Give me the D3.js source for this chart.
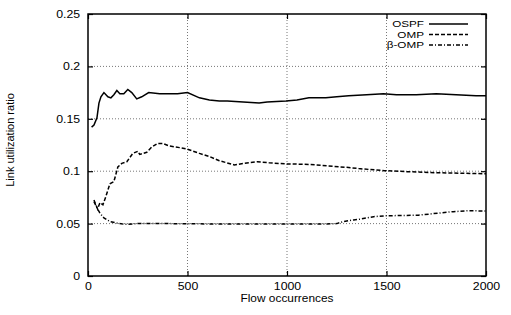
<!DOCTYPE html>
<html>
<head>
<meta charset="utf-8">
<title>Link utilization ratio</title>
<script src="https://d3js.org/d3.v7.min.js"></script>
<style>
  body { margin: 0; background: #fff; }
  text { font-family: "Liberation Sans", Arial, sans-serif; fill: #000; }
  .grid line { stroke: #777; stroke-dasharray: 1,2; stroke-width: 1; }
  .series { fill: none; stroke: #000; stroke-width: 1.5; }
</style>
</head>
<body>
<svg width="511" height="315"></svg>
<script>
// data
var ospfX = [18,30,45,55,65,80,100,115,130,145,160,180,200,220,245,270,305,360,450,500,560,610,660,700,780,860,900,995,1050,1110,1195,1250,1310,1400,1485,1550,1650,1750,1850,1950,2000];
var ospfY = [0.142,0.144,0.151,0.165,0.171,0.175,0.171,0.170,0.173,0.177,0.174,0.174,0.178,0.175,0.169,0.171,0.175,0.174,0.174,0.175,0.170,0.168,0.167,0.167,0.166,0.165,0.166,0.167,0.168,0.170,0.170,0.171,0.172,0.173,0.174,0.173,0.173,0.174,0.173,0.172,0.172];
var ompX = [30,48,60,75,90,110,130,150,170,195,225,250,260,295,320,350,375,410,460,500,560,610,660,735,785,850,910,995,1110,1210,1310,1360,1490,1610,1760,1900,2000];
var ompY = [0.0725,0.064,0.070,0.068,0.076,0.088,0.090,0.104,0.1075,0.109,0.117,0.119,0.116,0.118,0.123,0.1265,0.1265,0.124,0.1225,0.121,0.117,0.114,0.110,0.106,0.1075,0.109,0.108,0.107,0.1065,0.105,0.1035,0.1025,0.1005,0.0995,0.0985,0.098,0.0975];
var betaX = [30,45,60,80,110,150,185,250,400,600,800,1000,1200,1250,1285,1335,1360,1435,1495,1580,1660,1760,1835,1910,2000];
var betaY = [0.071,0.065,0.060,0.0555,0.052,0.0503,0.0493,0.050,0.050,0.0497,0.0497,0.0496,0.0497,0.050,0.052,0.0535,0.054,0.0566,0.0575,0.0577,0.058,0.060,0.0614,0.0623,0.062];
var names = ["OSPF", "OMP", "\u03B2-OMP"];
var dashes = ["none", "4,2", "4,2,1,2"];
var xTicks = [0, 500, 1000, 1500, 2000];
var yTicks = [0, 0.05, 0.1, 0.15, 0.2, 0.25];

var svg = d3.select("svg");
var pLeft = 88, pRight = 486, pTop = 14, pBottom = 276;

var x = d3.scaleLinear().domain([0, 2000]).range([pLeft, pRight]);
var y = d3.scaleLinear().domain([0, 0.25]).range([pBottom, pTop]);

// dotted grid
var grid = svg.append("g").attr("class", "grid");
grid.selectAll(".gx").data(xTicks.slice(1, -1)).enter().append("line")
    .attr("x1", d => x(d)).attr("x2", d => x(d))
    .attr("y1", pTop).attr("y2", pBottom);
grid.selectAll(".gy").data(yTicks.slice(1, -1)).enter().append("line")
    .attr("x1", pLeft).attr("x2", pRight)
    .attr("y1", d => y(d)).attr("y2", d => y(d));

// axes with inward ticks
function styleAxis(g) {
    g.select(".domain").remove();
    g.selectAll(".tick line").attr("stroke", "#000").attr("stroke-width", 1.2);
    g.selectAll("text").attr("font-size", "11px").attr("fill", "#000");
}
svg.append("g").attr("transform", "translate(0," + pBottom + ")")
    .call(d3.axisBottom(x).tickValues(xTicks).tickSize(-5).tickPadding(6).tickFormat(d3.format("d")))
    .call(styleAxis)
    .selectAll("text").attr("transform", "scale(1.12,1)");
svg.append("g").attr("transform", "translate(" + pLeft + ",0)")
    .call(d3.axisLeft(y).tickValues(yTicks).tickSize(-5).tickPadding(7).tickFormat(d => d === 0 ? "0" : String(+d.toFixed(2))))
    .call(styleAxis)
    .selectAll("text").attr("transform", "scale(1.12,1)");
svg.append("g").attr("transform", "translate(0," + pTop + ")")
    .call(d3.axisTop(x).tickValues(xTicks).tickSize(-5).tickFormat(""))
    .call(styleAxis);
svg.append("g").attr("transform", "translate(" + pRight + ",0)")
    .call(d3.axisRight(y).tickValues(yTicks).tickSize(-5).tickFormat(""))
    .call(styleAxis);

svg.append("rect").attr("x", pLeft).attr("y", pTop)
    .attr("width", pRight - pLeft).attr("height", pBottom - pTop)
    .attr("fill", "none").attr("stroke", "#000").attr("stroke-width", 1.5);

// series
var line = d3.line().x(d => x(d[0])).y(d => y(d[1]));
var series = [d3.zip(ospfX, ospfY), d3.zip(ompX, ompY), d3.zip(betaX, betaY)];
svg.selectAll(".series").data(series).enter().append("path")
    .attr("class", "series")
    .attr("d", line)
    .attr("stroke-dasharray", (d, i) => dashes[i]);

// legend
var legend = svg.append("g");
names.forEach(function (n, i) {
    var ly = 24 + i * 10.5;
    legend.append("text").attr("x", 424 / 1.3).attr("y", ly + 3.3)
        .attr("text-anchor", "end").attr("font-size", "9px")
        .attr("transform", "scale(1.3,1)").text(n);
    legend.append("line").attr("x1", 429).attr("x2", 468)
        .attr("y1", ly).attr("y2", ly)
        .attr("stroke", "#000").attr("stroke-width", 1.3)
        .attr("stroke-dasharray", dashes[i]);
});

// axis titles
svg.append("text").attr("x", 287 / 1.08).attr("y", 302)
    .attr("text-anchor", "middle").attr("font-size", "11px")
    .attr("transform", "scale(1.08,1)").text("Flow occurrences");
svg.append("text").attr("transform", "translate(14,140) rotate(-90)")
    .attr("text-anchor", "middle").attr("font-size", "11px")
    .text("Link utilization ratio");
</script>
</body>
</html>
